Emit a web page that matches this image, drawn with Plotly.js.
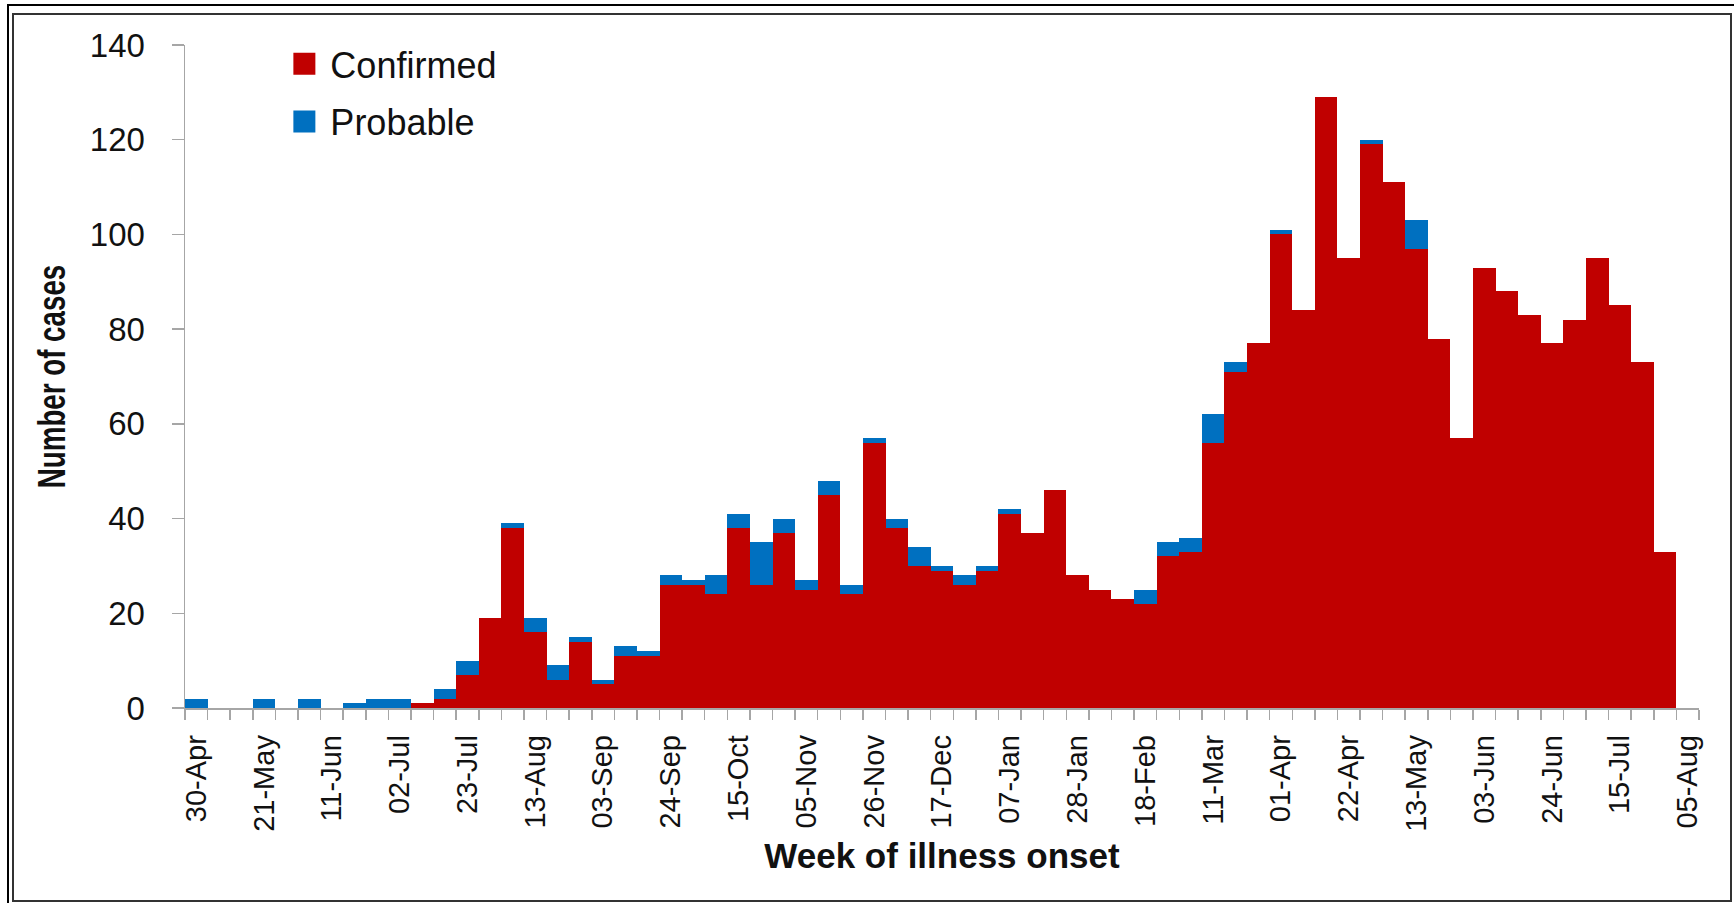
<!DOCTYPE html>
<html>
<head>
<meta charset="utf-8">
<script src="https://cdn.plot.ly/plotly-3.0.1.min.js"></script>
<style>
html,body{margin:0;padding:0;background:#fff;}
#wrap{position:relative;width:1734px;height:903px;overflow:hidden;background:#fff;}
#chart{position:absolute;left:0;top:0;width:1734px;height:903px;}
#f1{position:absolute;left:7px;top:4px;width:1760px;height:940px;border:2px solid #000;pointer-events:none;}
#f2{position:absolute;left:12px;top:13px;width:1716px;height:885px;border:2px solid #333;pointer-events:none;}
</style>
</head>
<body>
<div id="wrap">
  <div id="chart"></div>
  <div id="f1"></div>
  <div id="f2"></div>
</div>
<script>
// Week of illness onset: tick labels shown every 3rd week (30-Apr ... 05-Aug)
const tickLabels = ["30-Apr","21-May","11-Jun","02-Jul","23-Jul","13-Aug","03-Sep","24-Sep",
  "15-Oct","05-Nov","26-Nov","17-Dec","07-Jan","28-Jan","18-Feb","11-Mar","01-Apr","22-Apr",
  "13-May","03-Jun","24-Jun","15-Jul","05-Aug"];

// Weekly case counts (67 weeks, 30-Apr to 05-Aug)
const confirmed = [0,0,0,0,0,0,0,0,0,0,1,2,7,19,38,16,6,14,5,11,11,26,26,24,38,26,37,25,45,24,
  56,38,30,29,26,29,41,37,46,28,25,23,22,32,33,56,71,77,100,84,129,95,119,111,97,78,57,93,88,83,
  77,82,95,85,73,33,0];
const probable = [2,0,0,2,0,2,0,1,2,2,0,2,3,0,1,3,3,1,1,2,1,2,1,4,3,9,3,2,3,2,
  1,2,4,1,2,1,1,0,0,0,0,0,3,3,3,6,2,0,1,0,0,0,1,0,6,0,0,0,0,0,
  0,0,0,0,0,0,0];

const weekIdx = confirmed.map((_, i) => i);
const tickPos = tickLabels.map((_, i) => i * 3);

const RED = "#C00000", BLUE = "#0070C0", AX = "#A6A6A6";
const FONT = "Liberation Sans, Arial, sans-serif";

const traces = [
  {type: "bar", name: "Confirmed", x: weekIdx, y: confirmed, width: 1,
   marker: {color: RED, line: {width: 0}}, legendgroup: "c"},
  {type: "bar", name: "Probable", x: weekIdx, y: probable, width: 1,
   marker: {color: BLUE, line: {width: 0}}, legendgroup: "p"}
];

const layout = {
  width: 1734, height: 903,
  paper_bgcolor: "rgba(0,0,0,0)", plot_bgcolor: "rgba(0,0,0,0)",
  margin: {l: 185, r: 35, t: 45, b: 195, pad: 0},
  barmode: "stack", bargap: 0,
  showlegend: true,
  legend: {x: 0.0696, y: 1.017, xanchor: "left", yanchor: "top", traceorder: "grouped",
    tracegroupgap: 8, bgcolor: "rgba(0,0,0,0)",
    font: {family: FONT, size: 36, color: "#111"}},
  xaxis: {
    range: [-0.5, 66.5], tickmode: "array", tickvals: tickPos, ticktext: tickLabels,
    tickangle: -90, ticks: "", showline: true, linecolor: AX, linewidth: 1.5,
    showgrid: false, zeroline: false, fixedrange: true,
    tickfont: {family: FONT, size: 29, color: "#111"},
    ticklabelstandoff: 14,
    minor: {tickmode: "linear", tick0: -0.5, dtick: 1, ticks: "outside", ticklen: 10,
      tickcolor: AX, tickwidth: 1.5, showgrid: false},
    title: {text: "Week of illness onset", standoff: 12,
      font: {family: FONT, size: 35, color: "#111", weight: "bold"}}
  },
  yaxis: {
    range: [0, 140], dtick: 20, tick0: 0, ticks: "outside", ticklen: 12, tickwidth: 1.5,
    tickcolor: AX, showline: true, linecolor: AX, linewidth: 1.5, showgrid: false,
    zeroline: false, fixedrange: true, ticklabelstandoff: 20,
    tickfont: {family: FONT, size: 33, color: "#111"},
    title: {text: "Number of cases", standoff: 12,
      font: {family: FONT, size: 38, color: "#111", weight: "bold"}}
  }
};

Plotly.newPlot("chart", traces, layout, {displayModeBar: false, staticPlot: true}).then(function (gd) {
  // larger square legend swatches, placed like the original
  gd.querySelectorAll(".legendpoints path").forEach(function (p) {
    p.setAttribute("d", "M25,11H3V-11H25Z");
    p.removeAttribute("transform");
  });
  // condensed look for the vertical axis title
  var t = gd.querySelector(".ytitle");
  if (t) {
    var cx = parseFloat(t.getAttribute("x")), cy = parseFloat(t.getAttribute("y"));
    var tr = t.getAttribute("transform") || "";
    t.setAttribute("transform", "translate(" + cx + "," + cy + ") scale(1,0.73) translate(" + (-cx) + "," + (-cy) + ") " + tr);
  }
});
</script>
</body>
</html>
